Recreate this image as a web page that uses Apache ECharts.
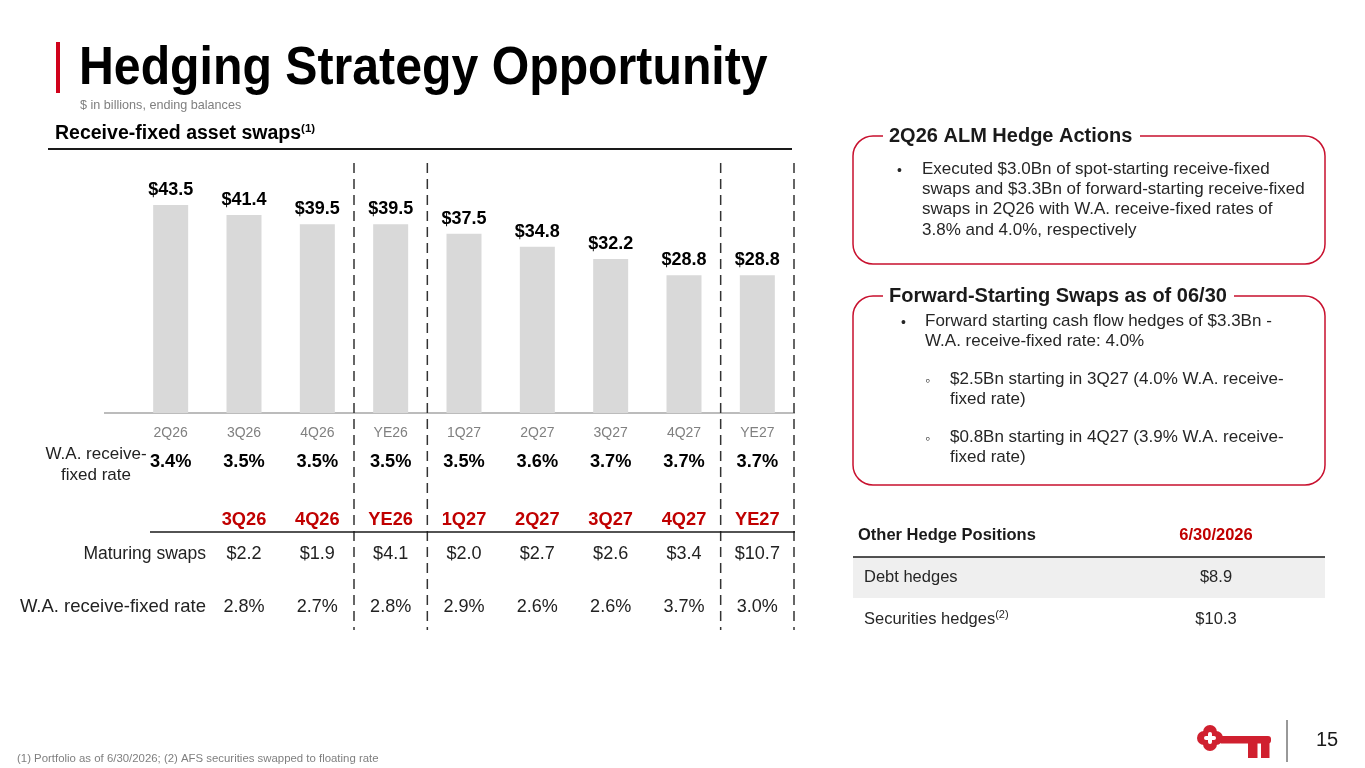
<!DOCTYPE html>
<html lang="en">
<head>
<meta charset="UTF-8">
<title>Hedging Strategy Opportunity</title>
<script src="https://cdn.jsdelivr.net/npm/echarts@6/dist/echarts.min.js"></script>
<style>
    html, body { margin: 0; padding: 0; background: #fff; }
    #chart { width: 1365px; height: 768px; }
</style>
</head>
<body>
<div id="chart"></div>
<script>
    // ending balances of receive-fixed asset swaps ($Bn)
    var periods = ['2Q26', '3Q26', '4Q26', 'YE26', '1Q27', '2Q27', '3Q27', '4Q27', 'YE27'];
    var balances = [43.5, 41.4, 39.5, 39.5, 37.5, 34.8, 32.2, 28.8, 28.8];
    var balanceRates = [3.4, 3.5, 3.5, 3.5, 3.5, 3.6, 3.7, 3.7, 3.7];
    // maturing swaps per period
    var maturingPeriods = ['3Q26', '4Q26', 'YE26', '1Q27', '2Q27', '3Q27', '4Q27', 'YE27'];
    var maturingSwaps = [2.2, 1.9, 4.1, 2.0, 2.7, 2.6, 3.4, 10.7];
    var maturingRates = [2.8, 2.7, 2.8, 2.9, 2.6, 2.6, 3.7, 3.0];
    // dashed dividers go after these periods
    var dividerAfter = ['4Q26', 'YE26', '4Q27', 'YE27'];
    // other hedge positions table
    var otherHedges = ['Debt hedges', 'Securities hedges'];
    var otherHedgeNotes = ['', '(2)'];
    var otherHedgeValues = [8.9, 10.3];

    var NARROW = "'Liberation Sans Narrow','Arial Narrow','Liberation Sans',Arial,sans-serif";
    var ARIAL = "'Liberation Sans',Arial,sans-serif";
    var RED = '#c00000';
    var BOX_RED = '#c8102e';

    var chart = echarts.init(document.getElementById('chart'));

    chart.setOption({
        animation: false,
        grid: { left: 134, width: 660, top: 174, height: 239 },
        xAxis: {
            type: 'category',
            data: periods,
            axisLine: { show: false },
            axisTick: { show: false },
            axisLabel: { color: '#808080', fontSize: 14, fontFamily: NARROW, margin: 13 }
        },
        yAxis: { type: 'value', min: 0, max: 50, show: false },
        series: [{
            type: 'bar',
            data: balances,
            barWidth: 35,
            silent: true,
            itemStyle: { color: '#d9d9d9' },
            label: {
                show: true,
                position: 'top',
                distance: 6,
                formatter: function (p) { return '$' + p.value.toFixed(1); },
                fontFamily: NARROW,
                fontWeight: 'bold',
                fontSize: 18,
                color: '#000'
            }
        }]
    });

    function cx(name) {
        return chart.convertToPixel({ xAxisIndex: 0 }, name);
    }
    var half = (cx(periods[1]) - cx(periods[0])) / 2;
    var y0 = chart.convertToPixel({ yAxisIndex: 0 }, 0);

    function txt(x, y, text, st, sx) {
        return {
            type: 'text', x: x, y: y, silent: true, scaleX: sx || 1,
            style: Object.assign({
                text: text, fill: '#000', fontFamily: NARROW, fontSize: 17,
                align: 'left', verticalAlign: 'middle'
            }, st || {})
        };
    }
    function line(x1, y1, x2, y2, st) {
        return {
            type: 'line', silent: true,
            shape: { x1: x1, y1: y1, x2: x2, y2: y2 },
            style: Object.assign({ stroke: '#1a1a1a', lineWidth: 1.5 }, st || {})
        };
    }

    var g = [];

    // title
    g.push({ type: 'rect', shape: { x: 56, y: 42, width: 4, height: 51 }, style: { fill: '#d0021b' } });
    g.push(txt(79, 69, 'Hedging Strategy Opportunity', { fontSize: 53, fontWeight: 'bold' }, 0.91));
    g.push(txt(80, 105, '$ in billions, ending balances', { fontSize: 13, fontFamily: ARIAL, fill: '#7f7f7f' }, 0.97));

    // section header
    g.push({
        type: 'text', x: 55, y: 134, silent: true,
        style: {
            text: '{a|Receive-fixed asset swaps}{s|(1)}',
            verticalAlign: 'middle',
            rich: {
                a: { fontFamily: NARROW, fontWeight: 'bold', fontSize: 19.5, fill: '#000', lineHeight: 22 },
                s: { fontFamily: NARROW, fontWeight: 'bold', fontSize: 11.5, fill: '#000', verticalAlign: 'top', lineHeight: 22 }
            }
        }
    });
    g.push(line(48, 149, 792, 149, { lineWidth: 2 }));

    // axis baseline
    g.push(line(104, y0, 795, y0, { stroke: '#a6a6a6', lineWidth: 1.5 }));

    // dashed dividers
    dividerAfter.forEach(function (p) {
        var x = cx(p) + half;
        g.push(line(x, 163, x, 630, { stroke: '#333', lineWidth: 1.5, lineDash: [10, 6] }));
    });

    // W.A. receive-fixed rate of balances
    g.push(txt(96, 465, 'W.A. receive-\nfixed rate', { fontSize: 17, align: 'center', lineHeight: 21, fill: '#222' }));
    periods.forEach(function (p, i) {
        g.push(txt(cx(p), 462, balanceRates[i].toFixed(1) + '%', { fontSize: 19, fontWeight: 'bold', align: 'center' }, 0.96));
    });

    // maturing swaps table
    maturingPeriods.forEach(function (p, i) {
        var x = cx(p);
        g.push(txt(x, 520, p, { fontSize: 19, fontWeight: 'bold', align: 'center', fill: RED }, 0.96));
        g.push(txt(x, 554, '$' + maturingSwaps[i].toFixed(1), { fontSize: 19, align: 'center', fill: '#222' }, 0.95));
        g.push(txt(x, 607, maturingRates[i].toFixed(1) + '%', { fontSize: 19, align: 'center', fill: '#222' }, 0.95));
    });
    g.push(line(150, 532, 795, 532));
    g.push(txt(206, 554, 'Maturing swaps', { fontSize: 17.5, align: 'right', fill: '#222' }));
    g.push(txt(206, 607, 'W.A. receive-fixed rate', { fontSize: 18.5, align: 'right', fill: '#222' }));

    // right side boxes
    function box(y, h, title, gapEnd) {
        g.push({
            type: 'rect', silent: true,
            shape: { x: 853, y: y, width: 472, height: h, r: 20 },
            style: { fill: 'none', stroke: BOX_RED, lineWidth: 1.5 }
        });
        g.push({ type: 'rect', silent: true, shape: { x: 883, y: y - 12, width: gapEnd - 883, height: 24 }, style: { fill: '#fff' } });
        g.push(txt(889, y, title, { fontFamily: ARIAL, fontSize: 20, fontWeight: 'bold', fill: '#1a1a1a' }));
    }
    var bodyStyle = { fontFamily: ARIAL, fontSize: 17, fill: '#262626', lineHeight: 20.3, verticalAlign: 'top' };
    var bulletStyle = Object.assign({}, bodyStyle, { fontSize: 14 });

    box(136, 128, '2Q26 ALM Hedge Actions', 1140);
    g.push(txt(897, 161, '\u2022', bulletStyle));
    g.push(txt(922, 159, 'Executed $3.0Bn of spot-starting receive-fixed\nswaps and $3.3Bn of forward-starting receive-fixed\nswaps in 2Q26 with W.A. receive-fixed rates of\n3.8% and 4.0%, respectively', bodyStyle));

    box(296, 189, 'Forward-Starting Swaps as of 06/30', 1234);
    g.push(txt(901, 313, '\u2022', bulletStyle));
    g.push(txt(925, 311, 'Forward starting cash flow hedges of $3.3Bn -\nW.A. receive-fixed rate: 4.0%', bodyStyle));
    g.push(txt(925, 371, '\u25e6', bulletStyle));
    g.push(txt(950, 369, '$2.5Bn starting in 3Q27 (4.0% W.A. receive-\nfixed rate)', bodyStyle));
    g.push(txt(925, 429, '\u25e6', bulletStyle));
    g.push(txt(950, 427, '$0.8Bn starting in 4Q27 (3.9% W.A. receive-\nfixed rate)', bodyStyle));

    // other hedge positions
    g.push(txt(858, 535, 'Other Hedge Positions', { fontFamily: ARIAL, fontSize: 16.5, fontWeight: 'bold', fill: '#1a1a1a' }));
    g.push(txt(1216, 535, '6/30/2026', { fontFamily: ARIAL, fontSize: 16.5, fontWeight: 'bold', fill: RED, align: 'center' }));
    otherHedges.forEach(function (name, i) {
        var y = 577 + i * 42;
        if (i % 2 === 0) {
            g.push({ type: 'rect', silent: true, shape: { x: 853, y: y - 20, width: 472, height: 41 }, style: { fill: '#efefef' } });
        }
        g.push({
            type: 'text', x: 864, y: y, silent: true,
            style: {
                text: '{a|' + name + '}' + (otherHedgeNotes[i] ? '{s|' + otherHedgeNotes[i] + '}' : ''),
                verticalAlign: 'middle',
                rich: {
                    a: { fontFamily: ARIAL, fontSize: 16.5, fill: '#262626', lineHeight: 19 },
                    s: { fontFamily: ARIAL, fontSize: 11, fill: '#262626', verticalAlign: 'top', lineHeight: 19 }
                }
            }
        });
        g.push(txt(1216, y, '$' + otherHedgeValues[i].toFixed(1), { fontFamily: ARIAL, fontSize: 16.5, fill: '#262626', align: 'center' }));
    });
    g.push(line(853, 557, 1325, 557));

    // footer
    g.push(txt(17, 759, '(1) Portfolio as of 6/30/2026; (2) AFS securities swapped to floating rate', { fontFamily: ARIAL, fontSize: 11.4, fill: '#7f7f7f' }));
    g.push(line(1287, 720, 1287, 762, { stroke: '#333', lineWidth: 1 }));
    g.push(txt(1327, 740, '15', { fontFamily: ARIAL, fontSize: 20, fill: '#1a1a1a', align: 'center' }));

    // key logo
    var KEY = '#d0202f';
    var hx = 1210, hy = 738;
    [[-6, 0], [6, 0], [0, -6], [0, 6]].forEach(function (o) {
        g.push({ type: 'circle', silent: true, shape: { cx: hx + o[0], cy: hy + o[1], r: 7 }, style: { fill: KEY } });
    });
    g.push({ type: 'circle', silent: true, shape: { cx: hx, cy: hy, r: 9 }, style: { fill: KEY } });
    g.push({ type: 'rect', silent: true, shape: { x: hx - 2, y: hy - 6, width: 4, height: 12, r: 2 }, style: { fill: '#fff' } });
    g.push({ type: 'rect', silent: true, shape: { x: hx - 6, y: hy - 2, width: 12, height: 4, r: 2 }, style: { fill: '#fff' } });
    g.push({ type: 'rect', silent: true, shape: { x: 1221, y: 736, width: 50, height: 7.5, r: [0, 3, 3, 0] }, style: { fill: KEY } });
    g.push({ type: 'rect', silent: true, shape: { x: 1248, y: 742, width: 9.5, height: 16 }, style: { fill: KEY } });
    g.push({ type: 'rect', silent: true, shape: { x: 1261, y: 742, width: 8.5, height: 16 }, style: { fill: KEY } });

    chart.setOption({ graphic: g });
</script>
</body>
</html>
